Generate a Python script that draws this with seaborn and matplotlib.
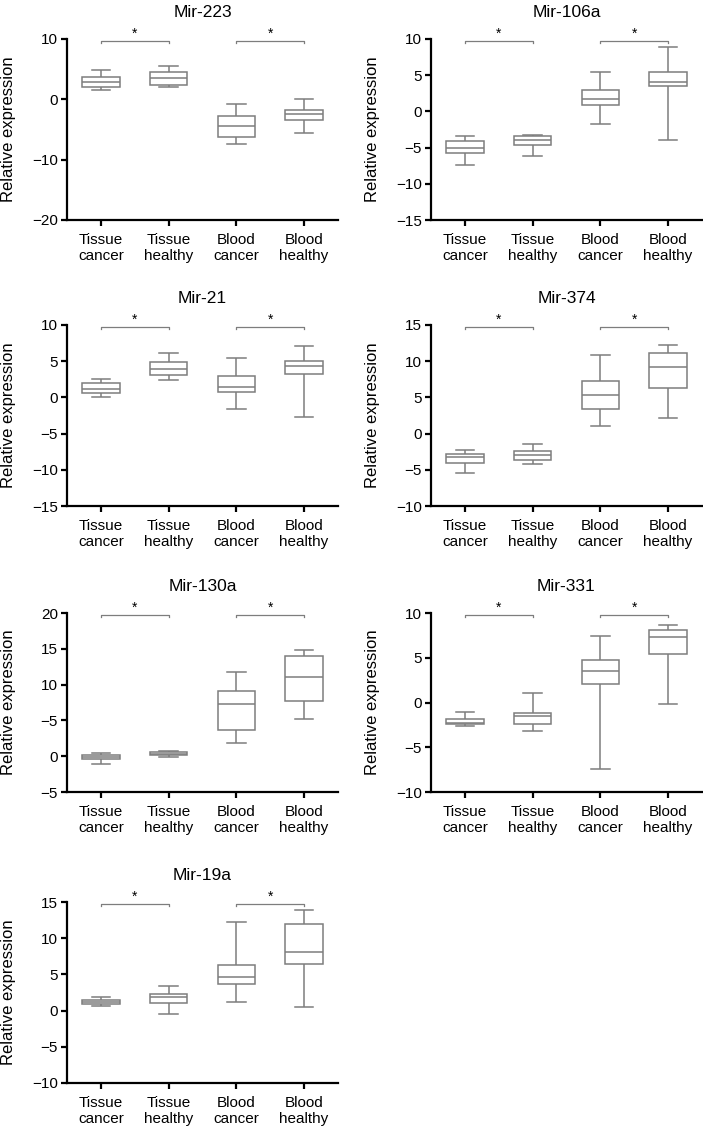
import pandas as pd
import seaborn as sns
import matplotlib.pyplot as plt

GROUPS = ["Tissue\ncancer", "Tissue\nhealthy", "Blood\ncancer", "Blood\nhealthy"]

# five-number summaries per group: min, q1, median, q3, max
mir223 = [[1.5, 2.0, 2.8, 3.7, 4.9], [2.0, 2.4, 3.5, 4.6, 5.5],
          [-7.4, -6.2, -4.4, -2.8, -0.7], [-5.5, -3.4, -2.5, -1.8, 0.1]]
mir106a = [[-7.4, -5.8, -5.0, -4.1, -3.4], [-6.1, -4.6, -4.0, -3.45, -3.3],
           [-1.7, 0.9, 1.7, 2.9, 5.4], [-3.9, 3.5, 4.0, 5.4, 8.9]]
mir21 = [[0.1, 0.56, 1.16, 2.0, 2.6], [2.4, 3.15, 3.9, 4.9, 6.1],
         [-1.65, 0.75, 1.4, 3.0, 5.5], [-2.7, 3.2, 4.3, 5.0, 7.1]]
mir374 = [[-5.4, -4.07, -3.29, -2.87, -2.27], [-4.2, -3.6, -2.9, -2.45, -1.48],
          [1.1, 3.4, 5.3, 7.3, 10.9], [2.1, 6.3, 9.2, 11.1, 12.2]]
mir130a = [[-1.1, -0.45, -0.15, 0.15, 0.5], [-0.1, 0.1, 0.35, 0.55, 0.7],
           [1.8, 3.7, 7.25, 9.15, 11.7], [5.2, 7.65, 11.1, 14.05, 14.9]]
mir331 = [[-2.66, -2.44, -2.3, -1.8, -1.06], [-3.15, -2.37, -1.55, -1.14, 1.02],
          [-7.43, 2.1, 3.48, 4.79, 7.47], [-0.2, 5.42, 7.32, 8.1, 8.66]]
mir19a = [[0.63, 0.9, 1.14, 1.5, 1.88], [-0.48, 1.04, 1.9, 2.3, 3.4],
          [1.18, 3.63, 4.7, 6.3, 12.3], [0.54, 6.45, 8.1, 12.0, 13.85]]

titles = ["Mir-223", "Mir-106a", "Mir-21", "Mir-374", "Mir-130a", "Mir-331", "Mir-19a"]
panels = [mir223, mir106a, mir21, mir374, mir130a, mir331, mir19a]
ylims = [(-20, 10), (-15, 10), (-15, 10), (-10, 15), (-5, 20), (-10, 10), (-10, 15)]
yticks = [[-20, -10, 0, 10], [-15, -10, -5, 0, 5, 10], [-15, -10, -5, 0, 5, 10],
          [-10, -5, 0, 5, 10, 15], [-5, 0, 5, 10, 15, 20], [-10, -5, 0, 5, 10],
          [-10, -5, 0, 5, 10, 15]]
# the source figure labels the "5" tick of Mir-130a as "-5"
mir130a_ticklabels = ["\u22125", "0", "\u22125", "10", "15", "20"]

GRAY = "#7d7d7d"

plt.rcParams['font.family'] = ['Liberation Sans', 'DejaVu Sans']
plt.rcParams['axes.unicode_minus'] = True

fig = plt.figure(figsize=(7.03, 11.26), dpi=100)
W, H = 703, 1126
lefts = [67, 431]
rows = [(39, 220), (325, 506), (613, 792), (902, 1083)]
width_px = 271

for i, (title, stats) in enumerate(zip(titles, panels)):
    r, c = divmod(i, 2)
    top, bottom = rows[r]
    ax = fig.add_axes([lefts[c] / W, 1 - bottom / H, width_px / W, (bottom - top) / H])

    rows_df = []
    for g, vals in zip(GROUPS, stats):
        for v in vals:
            rows_df.append({'Group': g, 'Value': v})
    df = pd.DataFrame(rows_df)

    sns.boxplot(x='Group', y='Value', data=df, order=GROUPS, ax=ax, whis=(0, 100),
                width=0.55, color='white', linecolor=GRAY, linewidth=1.1, fliersize=0)

    lo, hi = ylims[i]
    ax.set_xlim(-0.5, 3.5)
    ax.set_ylim(lo, hi)
    ax.set_yticks(yticks[i])
    if title == "Mir-130a":
        ax.set_yticklabels(mir130a_ticklabels)

    # significance brackets
    span = hi - lo
    yb = hi - 0.012 * span
    for a, b in [(0, 1), (2, 3)]:
        ax.plot([a, a, b, b], [yb - 0.008 * span, yb, yb, yb - 0.008 * span],
                color=GRAY, lw=0.9, clip_on=False)
        ax.text((a + b) / 2, yb + 0.004 * span, "*", ha='center', va='bottom',
                fontsize=10, clip_on=False)

    for s in ['top', 'right']:
        ax.spines[s].set_visible(False)
    for s in ['left', 'bottom']:
        ax.spines[s].set_linewidth(1.6)
        ax.spines[s].set_color('black')
    ax.tick_params(axis='both', width=1.6, length=4, direction='out', colors='black')
    ax.tick_params(axis='y', labelsize=11, pad=2.5)
    ax.tick_params(axis='x', labelsize=11, pad=5.5)
    ax.set_xlabel("")
    ax.set_ylabel("Relative expression", fontsize=12)
    ax.yaxis.set_label_coords(-0.19, 0.5)
    ax.set_title(title, fontsize=12.5, pad=16)

plt.savefig("out.png", dpi=100)
